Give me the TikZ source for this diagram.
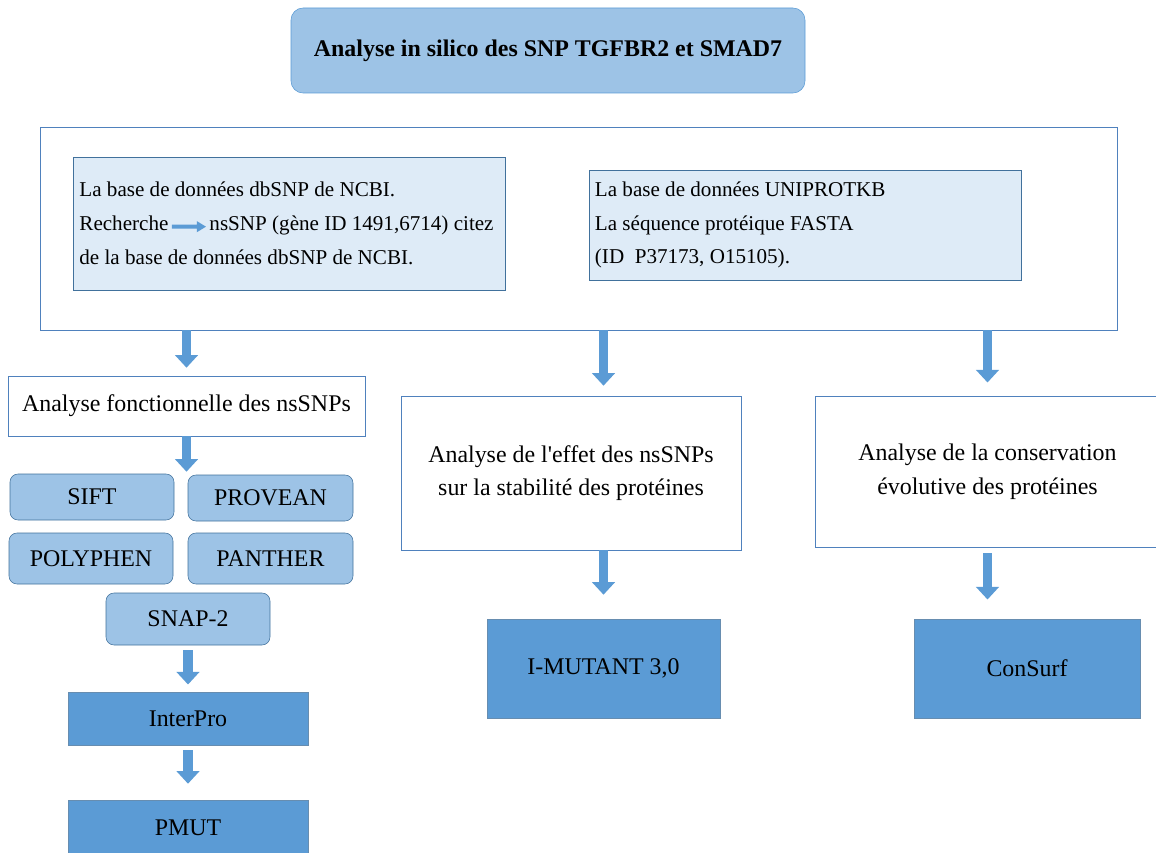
\documentclass[tikz,border=0pt]{standalone}
\usepackage{fontspec}
\setmainfont{Liberation Serif}
\usepackage{tikz}
\usetikzlibrary{arrows.meta}

\definecolor{lightblue}{HTML}{9DC3E6}
\definecolor{paleblue}{HTML}{DEEBF7}
\definecolor{midblue}{HTML}{5B9BD5}
\definecolor{edgeblue}{HTML}{41719C}
\definecolor{lineblue}{HTML}{4F81BD}

\begin{document}
\begin{tikzpicture}[x=0.025cm, y=-0.025cm,
				wh/.style 2 args={minimum width=#1*0.025cm, minimum height=#2*0.025cm},
				whitebox/.style={draw=lineblue, fill=white, align=center},
				infobox/.style={draw=edgeblue, fill=paleblue, align=flush left, text width=10.5cm, inner xsep=0.15cm, font=\fontsize{15}{24}\selectfont},
				toolbox/.style={draw=edgeblue, fill=lightblue, rounded corners=0.2cm},
				resultbox/.style={draw=edgeblue!80, fill=midblue},
				blk/.style={draw=midblue, line width=6.5pt, -{Triangle[width=16pt,length=9pt]}}]
					\tikzstyle{every node}=[rectangle, inner sep=0pt, text centered, font=\fontsize{17}{24}\selectfont]
					\useasboundingbox (0,0) rectangle (1156,853);

					% titre
					\node[toolbox, draw=midblue, rounded corners=0.3cm, wh={514}{85}, font=\fontsize{17}{24}\selectfont\bfseries] (title) at (548,50.5) {Analyse in silico des SNP TGFBR2 et SMAD7};

					% bases de donnees
					\node[whitebox, wh={1077}{203}] (frame) at (578.5,228.5) {};
					\node[infobox, wh={431}{133}] (dbsnp) at (289.5,223.5) {La base de données dbSNP de NCBI.\\
						Recherche\,\tikz[baseline={(0cm,-0.1cm)}]\fill[midblue] (0cm,0.05cm) -- (0.62cm,0.05cm) -- (0.62cm,0.14cm) -- (0.85cm,0cm) -- (0.62cm,-0.14cm) -- (0.62cm,-0.05cm) -- (0cm,-0.05cm) -- cycle;\,nsSNP (gène ID 1491,6714) citez\\
						de la base de données dbSNP de NCBI.};
					\node[infobox, wh={432}{110}] (uniprot) at (805,225) {La base de données UNIPROTKB\\
						La séquence protéique FASTA\\
						(ID~ P37173, O15105).};

					% analyse fonctionnelle
					\node[whitebox, wh={357}{60}] (fonc) at (186.5,406) {Analyse fonctionnelle des nsSNPs};
					\node[toolbox, wh={164}{46}] (sift) at (92,497) {SIFT};
					\node[toolbox, wh={165}{46}] (provean) at (270.5,498) {PROVEAN};
					\node[toolbox, wh={164}{51}] (polyphen) at (91,558.5) {POLYPHEN};
					\node[toolbox, wh={165}{51}] (panther) at (270.5,558.5) {PANTHER};
					\node[toolbox, wh={164}{52}] (snap) at (188,619) {SNAP-2};
					\node[resultbox, wh={240}{53}] (interpro) at (188,718.5) {InterPro};
					\node[resultbox, wh={240}{56}] (pmut) at (188,828) {PMUT};

					% stabilite et conservation
					\node[whitebox, wh={340}{154}] (stab) at (571,473) {Analyse de l\textquotesingle effet des nsSNPs\\sur la stabilité des protéines};
					\node[whitebox, wh={345}{151}] (cons) at (987.5,471.5) {Analyse de la conservation\\évolutive des protéines};
					\node[resultbox, wh={233}{99}] (imutant) at (603.5,668.5) {I-MUTANT 3,0};
					\node[resultbox, wh={226}{99}] (consurf) at (1027,668.5) {ConSurf};

					% fleches
					\draw[blk, shorten >=0.2cm] (fonc.north |- frame.south) -- (fonc.north);
					\draw[blk, shorten >=0.25cm] (imutant.north |- frame.south) -- (imutant.north |- stab.north);
					\draw[blk, shorten >=0.33cm] (cons.north |- frame.south) -- (cons.north);
					\draw[blk, shorten >=0.05cm] (fonc.south) -- (fonc.south |- sift.north);
					\draw[blk, shorten <=0.12cm, shorten >=0.18cm] (snap.south) -- (interpro.north);
					\draw[blk, shorten <=0.12cm, shorten >=0.4cm] (interpro.south) -- (pmut.north);
					\draw[blk, shorten >=0.6cm] (stab.south -| imutant.north) -- (imutant.north);
					\draw[blk, shorten <=0.15cm, shorten >=0.48cm] (cons.south) -- (cons.south |- consurf.north);
				\end{tikzpicture}
\end{document}
